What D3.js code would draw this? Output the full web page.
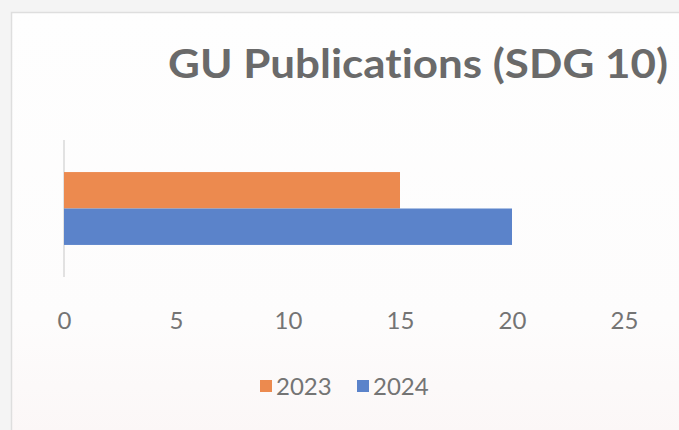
<!DOCTYPE html>
<html>
<head>
<meta charset="utf-8">
<script src="https://cdn.jsdelivr.net/npm/d3@7"></script>
<style>
  html, body { margin: 0; padding: 0; background: #f3f3f3; }
  svg { display: block; }
  text { font-variant-ligatures: none; }
</style>
</head>
<body>
<svg id="chart" width="679" height="430"></svg>
<script>
// Publication counts for SDG 10, one category split by year
const categories = ["SDG 10"];
const seriesNames = ["2023", "2024"];
const values2023 = [15];
const values2024 = [20];
const xTicks = [0, 5, 10, 15, 20, 25];
const titleText = "GU Publications (SDG 10)";

const colors = { "2023": "#ec8a4f", "2024": "#5b83ca" };
const seriesValues = { "2023": values2023, "2024": values2024 };

const svg = d3.select("#chart");
const W = 679, H = 430;
const FONT = "Lato, 'Open Sans', sans-serif";

// chart area background with a thin frame
svg.append("rect").attr("x", 0).attr("y", 0).attr("width", W).attr("height", H).attr("fill", "#f4f4f4");
const bg = svg.append("defs").append("linearGradient").attr("id", "bg")
  .attr("x1", 0).attr("y1", 0).attr("x2", 0).attr("y2", 1);
bg.append("stop").attr("offset", "0%").attr("stop-color", "#fefefe");
bg.append("stop").attr("offset", "70%").attr("stop-color", "#fdfcfc");
bg.append("stop").attr("offset", "100%").attr("stop-color", "#fbf6f6");
svg.append("rect").attr("x", 11.5).attr("y", 12.5).attr("width", W + 10).attr("height", H + 10)
  .attr("fill", "url(#bg)").attr("stroke", "#dedede").attr("stroke-width", 1.5);

// title
svg.append("text")
  .attr("x", 668).attr("y", 78)
  .attr("text-anchor", "end")
  .attr("font-family", FONT)
  .attr("font-weight", "bold")
  .attr("font-size", 41)
  .attr("fill", "#6a6a6a")
  .attr("textLength", 500)
  .attr("lengthAdjust", "spacingAndGlyphs")
  .text(titleText);

// scales
const x = d3.scaleLinear().domain([0, 25]).range([64, 624]);
const y = d3.scaleBand().domain(categories).range([140, 277]).paddingInner(0).paddingOuter(0.44);
const ySeries = d3.scaleBand().domain(seriesNames).range([0, y.bandwidth()]).padding(0);

// vertical category axis line
svg.append("line")
  .attr("x1", x(0)).attr("x2", x(0))
  .attr("y1", y.range()[0]).attr("y2", y.range()[1])
  .attr("stroke", "#d9d9d9").attr("stroke-width", 1.5);

// bars
const groups = svg.selectAll("g.cat").data(categories).enter().append("g")
  .attr("class", "cat")
  .attr("transform", d => `translate(0,${y(d)})`);

categories.forEach((cat, ci) => {
  const g = groups.filter(d => d === cat);
  g.selectAll("rect.bar")
    .data(seriesNames.map(s => ({ s, v: seriesValues[s][ci] })))
    .enter().append("rect")
    .attr("class", "bar")
    .attr("x", x(0))
    .attr("y", d => ySeries(d.s))
    .attr("width", d => x(d.v) - x(0))
    .attr("height", ySeries.bandwidth())
    .attr("fill", d => colors[d.s]);
});

// value axis labels
const xAxis = d3.axisBottom(x).tickValues(xTicks).tickSize(0).tickPadding(0);
const ax = svg.append("g").attr("transform", "translate(0,312)").call(xAxis);
ax.select(".domain").remove();
ax.selectAll("text")
  .attr("dy", "0.71em")
  .attr("font-family", FONT)
  .attr("font-size", 24)
  .attr("fill", "#747474");

// legend
const legendItems = [
  { s: "2023", sx: 260, tx: 276 },
  { s: "2024", sx: 357, tx: 373 }
];
const lg = svg.append("g");
legendItems.forEach(item => {
  lg.append("rect").attr("x", item.sx).attr("y", 380).attr("width", 12).attr("height", 12)
    .attr("fill", colors[item.s]);
  lg.append("text").attr("x", item.tx).attr("y", 395)
    .attr("font-family", FONT)
    .attr("font-size", 24)
    .attr("fill", "#747474")
    .text(item.s);
});
</script>
</body>
</html>
